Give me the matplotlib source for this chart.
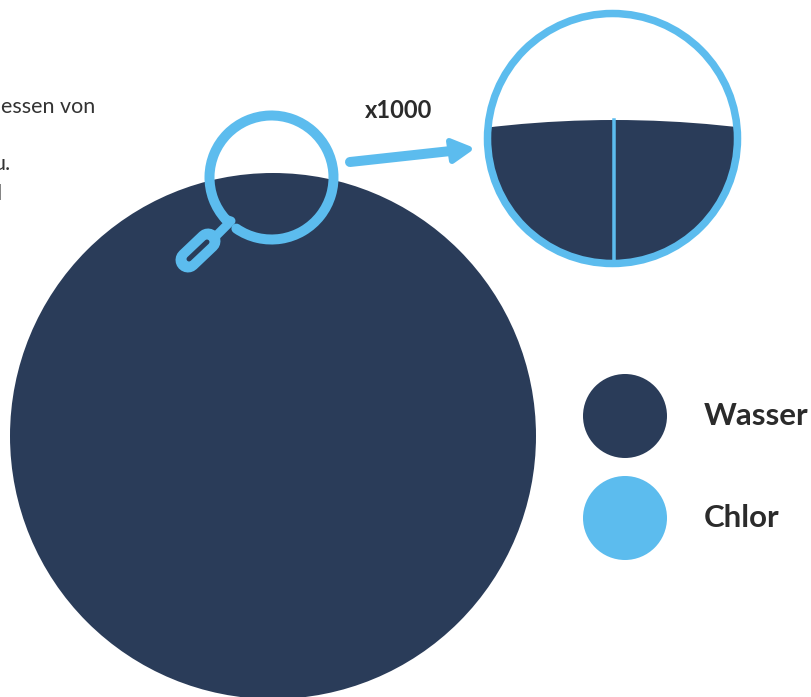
import matplotlib
matplotlib.use('Agg')
import matplotlib.pyplot as plt
from matplotlib.patches import Arc, Circle, Polygon

navy = '#2a3c59'
cyan = '#5cbcee'

# everything in pixels of the original picture
big_drop = (273, 436, 263)
lens = (271.5, 177.5, 62)
lens_gap = (138, 484.5)
handle_x = [188, 208]
handle_y = [260, 241]
slit_x = [189, 207]
slit_y = [259, 242]
neck_x = [225, 231, 216]
neck_y = [219, 221, 236]
arrow_x = [350, 460]
arrow_y = [162, 150]
arrow_head = [(449, 141), (469, 149), (452, 161)]
zoom_circle = (612.5, 138.5, 125)
surface = (614, 1186, 1066)
divider_x = [614, 614]
divider_y = [120, 263]
legend_y = [416, 518]
legend_labels = ['Wasser', 'Chlor']
legend_colors = [navy, cyan]
cut_text = [('essen von', 95, 113), ('u.', 11, 170), ('l', 2, 200)]


def px(n):
    return n * 0.72


fig = plt.figure(figsize=(8.11, 6.97), dpi=100)
ax = fig.add_axes([0, 0, 1, 1])
ax.set_xlim(0, 811)
ax.set_ylim(697, 0)
ax.axis('off')

ax.add_patch(Circle(big_drop[:2], big_drop[2], color=navy, lw=0, zorder=1))

# magnifying glass
ax.add_patch(Arc(lens[:2], 2 * lens[2], 2 * lens[2], theta1=lens_gap[0], theta2=lens_gap[1],
                 color=cyan, lw=px(10), capstyle='round', zorder=3))
ax.plot(neck_x, neck_y, color=cyan, lw=px(9), solid_capstyle='round', solid_joinstyle='round', zorder=3)
ax.plot(handle_x, handle_y, color=cyan, lw=px(25), solid_capstyle='round', zorder=3)
ax.plot(slit_x, slit_y, color=navy, lw=px(5), solid_capstyle='round', zorder=4)

# arrow
ax.plot(arrow_x, arrow_y, color=cyan, lw=px(10), solid_capstyle='round', zorder=3)
ax.add_patch(Polygon(arrow_head, closed=True, facecolor=cyan, edgecolor=cyan, lw=px(6),
                     joinstyle='round', zorder=3))
ax.text(399, 110, 'x1000', fontsize=17, fontweight='bold', family='Lato',
        color='#2b2b2b', ha='center', va='center')

# enlarged part
clip = Circle(zoom_circle[:2], zoom_circle[2], transform=ax.transData)
water = Circle(surface[:2], surface[2], color=navy, lw=0, zorder=2)
ax.add_patch(water)
water.set_clip_path(clip)
ax.plot(divider_x, divider_y, color=cyan, lw=px(3.5), zorder=3)
ax.add_patch(Circle(zoom_circle[:2], zoom_circle[2], fill=False, edgecolor=cyan, lw=px(7.5), zorder=4))

# legend
for y, name, col in zip(legend_y, legend_labels, legend_colors):
    ax.add_patch(Circle((625, y), 42, color=col, lw=0))
    ax.text(704, y, name, fontsize=22.5, fontweight='bold', family='Lato',
            color='#2b2b2b', ha='left', va='center')

# text cut off at the left edge, as in the source picture
for s, x, y in cut_text:
    ax.text(x, y, s, fontsize=15.5, family='Lato', color='#333333', ha='right', va='baseline')

fig.savefig('out.png', dpi=100)
